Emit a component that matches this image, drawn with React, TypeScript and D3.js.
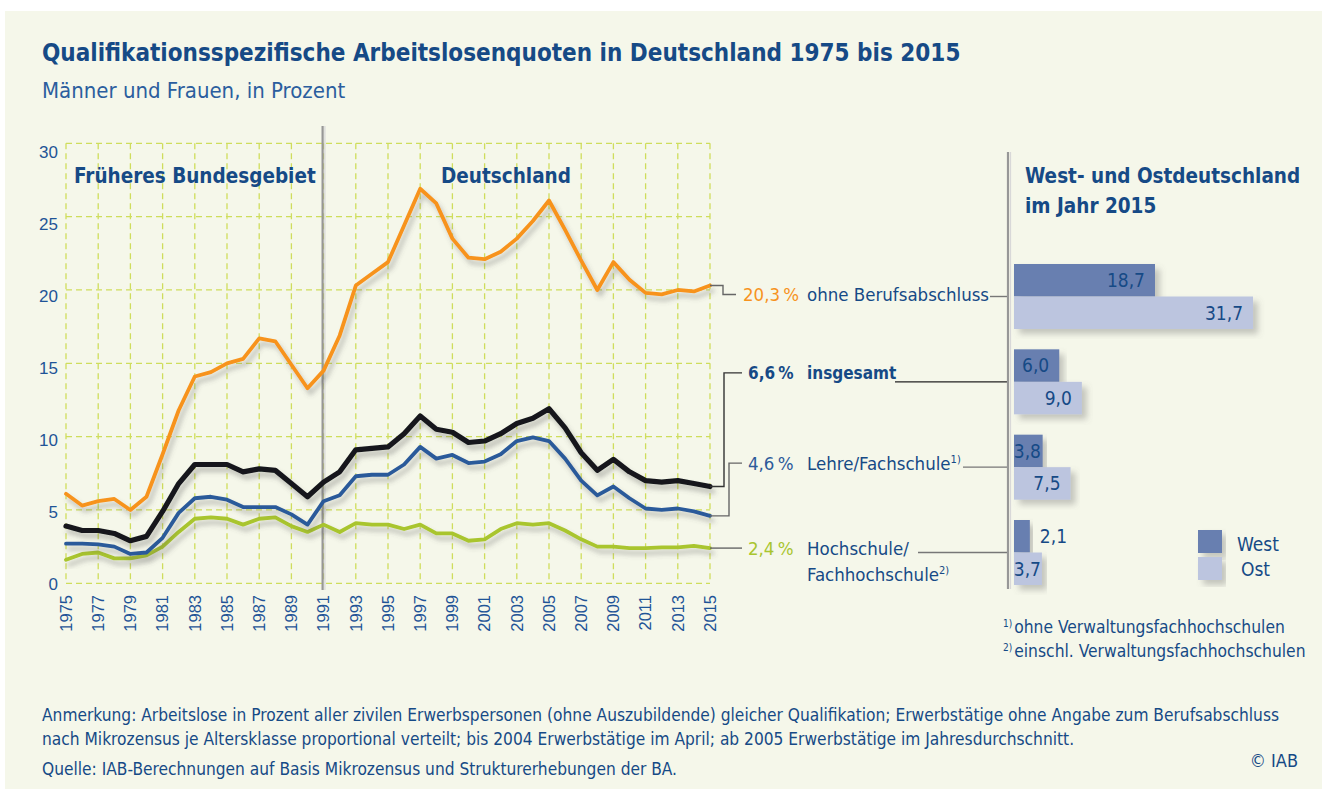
import React from "react";
import * as d3 from "d3";

const years = [1975,1976,1977,1978,1979,1980,1981,1982,1983,1984,1985,1986,1987,1988,1989,1990,1991,1992,1993,1994,1995,1996,1997,1998,1999,2000,2001,2002,2003,2004,2005,2006,2007,2008,2009,2010,2011,2012,2013,2014,2015];
const ohneBerufsabschluss = [6.1,5.3,5.6,5.75,5.0,5.9,8.8,11.8,14.1,14.4,15.0,15.3,16.7,16.5,14.9,13.3,14.5,16.9,20.3,21.1,21.9,24.4,26.9,25.9,23.5,22.2,22.1,22.6,23.5,24.7,26.1,24.1,22.0,20.0,21.9,20.7,19.8,19.7,20.0,19.9,20.3];
const insgesamt = [3.9,3.6,3.6,3.4,2.9,3.2,4.9,6.8,8.1,8.1,8.1,7.6,7.8,7.7,6.8,5.9,6.9,7.6,9.1,9.2,9.3,10.2,11.4,10.5,10.3,9.6,9.7,10.2,10.9,11.25,11.9,10.6,8.9,7.7,8.45,7.6,7.0,6.9,7.0,6.8,6.6];
const lehreFachschule = [2.7,2.7,2.65,2.5,2.0,2.1,3.1,4.8,5.8,5.9,5.7,5.2,5.2,5.2,4.7,4.0,5.6,6.0,7.3,7.4,7.4,8.1,9.3,8.5,8.75,8.2,8.3,8.8,9.7,9.95,9.7,8.5,7.0,6.0,6.6,5.8,5.1,5.0,5.1,4.9,4.6];
const hochschule = [1.6,2.0,2.1,1.7,1.7,1.9,2.5,3.5,4.4,4.5,4.4,4.0,4.4,4.5,3.9,3.5,4.0,3.5,4.1,4.0,4.0,3.7,4.0,3.4,3.4,2.9,3.0,3.7,4.1,4.0,4.1,3.6,3.0,2.5,2.5,2.4,2.4,2.45,2.45,2.55,2.4];

const yTicks = [0, 5, 10, 15, 20, 25, 30];
const xTickYears = [1975,1977,1979,1981,1983,1985,1987,1989,1991,1993,1995,1997,1999,2001,2003,2005,2007,2009,2011,2013,2015];

const barCategories = ["ohne Berufsabschluss", "insgesamt", "Lehre/Fachschule", "Hochschule/Fachhochschule"];
const westValues = [18.7, 6.0, 3.8, 2.1];
const ostValues = [31.7, 9.0, 7.5, 3.7];

const FONT = "'Liberation Sans Narrow', 'DejaVu Sans Condensed', 'Open Sans', 'Noto Sans', sans-serif";
const ARIAL = "'Liberation Sans', Arial, sans-serif";
const BG = "#f5f7ea";
const NAVY = "#164a86";
const BLUE_TXT = "#1f5497";
const GRID = "#cfdd5c";
const C_ORANGE = "#f7931e";
const C_BLACK = "#15191c";
const C_BLUE = "#2c5a9a";
const C_GREEN = "#a9c52f";
const C_WEST = "#687fb0";
const C_OST = "#bcc5df";

const fmt = (v: number) => v.toFixed(1).replace(".", ",");

export default function App() {
  const x = d3.scaleLinear().domain([1975, 2015]).range([66, 710]);
  const y = d3.scaleLinear().domain([0, 30]).range([583.3, 143.3]);
  const yLab = d3.scaleLinear().domain([0, 30]).range([584, 151.7]);
  const xb = d3.scaleLinear().domain([0, 30]).range([1014, 1240.2]);
  const band = d3.scaleBand<string>().domain(barCategories).range([264, 585]).paddingInner(0.2383);
  const bw = band.bandwidth() / 2;

  const line = d3.line<number>().x((_, i) => x(years[i])).y((d) => y(d)).curve(d3.curveLinear);

  const series = [
    { key: "ohne", values: ohneBerufsabschluss, color: C_ORANGE, width: 3.8 },
    { key: "hoch", values: hochschule, color: C_GREEN, width: 3.8 },
    { key: "lehre", values: lehreFachschule, color: C_BLUE, width: 3.8 },
    { key: "insg", values: insgesamt, color: C_BLACK, width: 5.2 },
  ];

  const last = (a: number[]) => a[a.length - 1];
  const endX = x(2015);
  const mid = (i: number) => (band(barCategories[i]) as number) + bw;

  const ann = [
    { values: ohneBerufsabschluss, knee: 723, ly: mid(0) - 2, pctColor: C_ORANGE, bold: false, lines: ["ohne Berufsabschluss"], sup: "", lineStart: 990 },
    { values: insgesamt, knee: 724, ly: mid(1) - 9, pctColor: NAVY, bold: true, lines: ["insgesamt"], sup: "", lineStart: 895 },
    { values: lehreFachschule, knee: 729, ly: mid(2) - 4, pctColor: C_BLUE, bold: false, lines: ["Lehre/Fachschule"], sup: "1)", lineStart: 963 },
    { values: hochschule, knee: null as number | null, ly: y(last(hochschule)), pctColor: C_GREEN, bold: false, lines: ["Hochschule/", "Fachhochschule"], sup: "2)", lineStart: 918 },
  ];

  return (
    <svg width={1322} height={789} style={{ position: "fixed", left: 0, top: 0, background: "#ffffff" }}>
      <defs>
        <filter id="lshadow" x="-5%" y="-10%" width="115%" height="130%">
          <feDropShadow dx="3" dy="5" stdDeviation="2.5" floodColor="#555" floodOpacity="0.35" />
        </filter>
        <filter id="bshadow" x="-5%" y="-10%" width="120%" height="140%">
          <feDropShadow dx="5" dy="5" stdDeviation="3" floodColor="#666" floodOpacity="0.35" />
        </filter>
      </defs>
      <rect x={5} y={11} width={1317} height={778} fill={BG} />

      <text x={42} y={61} fontFamily={FONT} fontWeight="bold" fontSize={24} fill={NAVY}>
        Qualifikationsspezifische Arbeitslosenquoten in Deutschland 1975 bis 2015
      </text>
      <text x={42} y={98} fontFamily={FONT} fontSize={22} fill="#2b5e9e">
        Männer und Frauen, in Prozent
      </text>

      {yTicks.map((t) => (
        <line key={"h" + t} x1={x(1975)} x2={x(2015)} y1={y(t)} y2={y(t)} stroke={GRID} strokeWidth={1.3} strokeDasharray="6,4" />
      ))}
      {xTickYears.map((t) => (
        <line key={"v" + t} x1={x(t)} x2={x(t)} y1={y(30)} y2={y(0)} stroke={GRID} strokeWidth={1.3} strokeDasharray="6,4" />
      ))}
      <line x1={x(1991) - 1} x2={x(1991) - 1} y1={126} y2={590} stroke="#979797" strokeWidth={2.2} />
      <line x1={x(1991) + 1.3} x2={x(1991) + 1.3} y1={126} y2={590} stroke="#d8d8d8" strokeWidth={1.2} />

      {yTicks.map((t) => (
        <text key={"yl" + t} x={58} y={yLab(t)} dy="0.35em" textAnchor="end" fontFamily={ARIAL} fontSize={17} fill={BLUE_TXT}>
          {t}
        </text>
      ))}
      {xTickYears.map((t) => (
        <text key={"xl" + t} transform={`translate(${x(t)},595) rotate(-90)`} dy="0.35em" textAnchor="end" fontFamily={ARIAL} fontSize={16.5} fill={BLUE_TXT}>
          {t}
        </text>
      ))}

      <text x={74} y={183} fontFamily={FONT} fontWeight="bold" fontSize={20.5} fill={NAVY}>Früheres Bundesgebiet</text>
      <text x={506} y={183} textAnchor="middle" fontFamily={FONT} fontWeight="bold" fontSize={20.5} fill={NAVY}>Deutschland</text>

      {series.map((s) => (
        <path key={s.key} d={line(s.values) as string} fill="none" stroke={s.color} strokeWidth={s.width} strokeLinejoin="round" strokeLinecap="round" filter="url(#lshadow)" />
      ))}

      {ann.map((a, i) => {
        const sy = y(last(a.values));
        const pts = a.knee === null
          ? `${endX},${sy} 742,${sy}`
          : `${endX},${sy} ${a.knee},${sy} ${a.knee},${a.ly} ${i === 0 ? 736 : 742},${a.ly}`;
        const fs = a.bold ? 17 : 18.5;
        return (
          <g key={"ann" + i}>
            <polyline points={pts} fill="none" stroke={i === 1 ? "#333" : "#666"} strokeWidth={1.4} />
            <text x={i === 0 ? 743 : 748} y={a.ly} dy="0.35em" fontFamily={FONT} fontWeight={a.bold ? "bold" : "normal"} fontSize={fs} fill={a.pctColor}>
              {fmt(last(a.values))}{"\u2009%"}
            </text>
            {a.lines.map((l, j) => (
              <text key={j} x={807} y={a.ly + j * 26} dy="0.35em" fontFamily={FONT} fontWeight={a.bold ? "bold" : "normal"} fontSize={fs} fill={NAVY}>
                {l}
                {j === a.lines.length - 1 && a.sup ? <tspan fontSize={11} dy="-0.6em">{a.sup}</tspan> : null}
              </text>
            ))}
            <line x1={a.lineStart} x2={1009} y1={mid(i)} y2={mid(i)} stroke={i === 1 ? "#222" : "#777"} strokeWidth={1.4} />
          </g>
        );
      })}

      <line x1={1008} x2={1008} y1={152} y2={589} stroke="#979797" strokeWidth={2.2} />
      <line x1={1010.5} x2={1010.5} y1={152} y2={589} stroke="#d8d8d8" strokeWidth={1.2} />

      <text x={1025} y={183} fontFamily={FONT} fontWeight="bold" fontSize={20.5} fill={NAVY}>West- und Ostdeutschland</text>
      <text x={1025} y={213} fontFamily={FONT} fontWeight="bold" fontSize={20.5} fill={NAVY}>im Jahr 2015</text>

      {barCategories.map((c, i) => {
        const top = band(c) as number;
        return (
          <g key={"bar" + i}>
            <rect x={xb(0)} y={top} width={xb(westValues[i]) - xb(0)} height={bw} fill={C_WEST} filter="url(#bshadow)" />
            <rect x={xb(0)} y={top + bw} width={xb(ostValues[i]) - xb(0)} height={bw} fill={C_OST} filter="url(#bshadow)" />
          </g>
        );
      })}
      {barCategories.map((c, i) => {
        const top = band(c) as number;
        const items = [
          { v: westValues[i], yy: top + bw / 2 },
          { v: ostValues[i], yy: top + bw * 1.5 },
        ];
        return items.map((it, k) => {
          const end = xb(it.v);
          const outside = it.v < 3;
          const xx = outside ? end + 10 : Math.max(end - 10, xb(0) + 27);
          return (
            <text key={"bl" + i + k} x={xx} y={it.yy} dy="0.36em" textAnchor={outside ? "start" : "end"} fontFamily={FONT} fontSize={19} fill={NAVY}>
              {fmt(it.v)}
            </text>
          );
        });
      })}

      <rect x={1198} y={530} width={24} height={23} fill={C_WEST} filter="url(#bshadow)" />
      <rect x={1198} y={557} width={24} height={23} fill={C_OST} filter="url(#bshadow)" />
      <text x={1237} y={544} dy="0.35em" fontFamily={FONT} fontSize={19} fill={NAVY}>West</text>
      <text x={1241} y={569} dy="0.35em" fontFamily={FONT} fontSize={19} fill={NAVY}>Ost</text>

      <text x={1003} y={633} fontFamily={FONT} fontSize={17.3} fill={NAVY}>
        <tspan fontSize={10} dy="-6">1)</tspan><tspan dy="6" dx="2">ohne Verwaltungsfachhochschulen</tspan>
      </text>
      <text x={1003} y={657} fontFamily={FONT} fontSize={17.3} fill={NAVY}>
        <tspan fontSize={10} dy="-6">2)</tspan><tspan dy="6" dx="2">einschl. Verwaltungsfachhochschulen</tspan>
      </text>

      <text x={42} y={721} fontFamily={FONT} fontSize={17.2} fill={NAVY}>
        Anmerkung: Arbeitslose in Prozent aller zivilen Erwerbspersonen (ohne Auszubildende) gleicher Qualifikation; Erwerbstätige ohne Angabe zum Berufsabschluss
      </text>
      <text x={42} y={745} fontFamily={FONT} fontSize={17.2} fill={NAVY}>
        nach Mikrozensus je Altersklasse proportional verteilt; bis 2004 Erwerbstätige im April; ab 2005 Erwerbstätige im Jahresdurchschnitt.
      </text>
      <text x={42} y={775} fontFamily={FONT} fontSize={17.2} fill={NAVY}>
        Quelle: IAB-Berechnungen auf Basis Mikrozensus und Strukturerhebungen der BA.
      </text>
      <text x={1298} y={767} textAnchor="end" fontFamily={FONT} fontSize={18} fill={NAVY}>© IAB</text>
    </svg>
  );
}
